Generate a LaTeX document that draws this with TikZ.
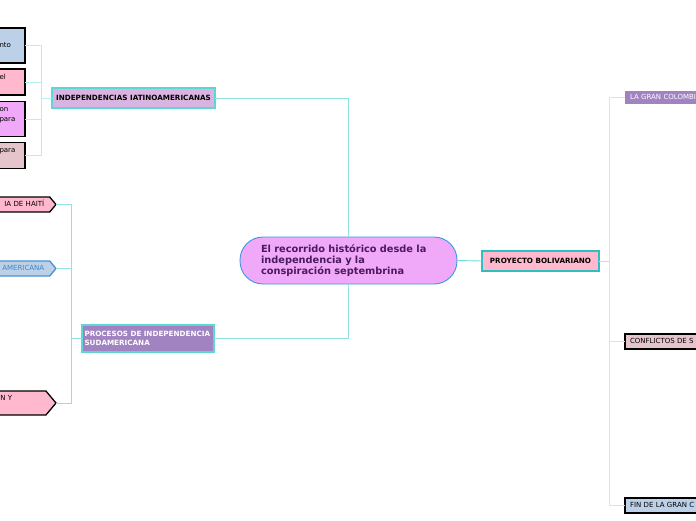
\documentclass[tikz,border=0pt]{standalone}
\usepackage{fontspec}
\setmainfont{DejaVu Sans}
\usetikzlibrary{shapes.symbols}
\definecolor{centerfill}{HTML}{F0A8F8}
\definecolor{centerborder}{HTML}{3C96E6}
\definecolor{centertext}{HTML}{4B1A5E}
\definecolor{orchid}{HTML}{DAB4E0}
\definecolor{violetbox}{HTML}{A283C2}
\definecolor{topicborder}{HTML}{5CD6D6}
\definecolor{tealborder}{HTML}{2EBFBF}
\definecolor{boxpink}{HTML}{FFB8CE}
\definecolor{boxblue}{HTML}{BCD0E8}
\definecolor{boxrose}{HTML}{E6C4CC}
\definecolor{arrowblue}{HTML}{4A92D2}
\definecolor{textblue}{HTML}{3A88C8}
\definecolor{cyanline}{HTML}{8EE2E2}
\definecolor{paleline}{HTML}{B4F0F0}
\definecolor{centerline}{HTML}{70D8D8}
\definecolor{pinkline}{HTML}{F4C8D8}
\definecolor{lilacline}{HTML}{EEDAEA}

\begin{document}
\begin{tikzpicture}[x=1pt,y=-1pt,outer sep=0pt,
  small/.style={font=\fontsize{7}{10}\selectfont},
  smallbold/.style={font=\fontsize{7.2}{9.5}\selectfont\bfseries},
  leafbox/.style={draw=black,line width=1.3pt,small,text width=23.5pt,align=left,inner xsep=2pt,inner ysep=2.5pt,anchor=east},
  pointbox/.style={shape=signal,signal to=east,signal pointer angle=100,draw=black,line width=1.3pt,small,inner xsep=5.5pt,inner ysep=2.5pt,anchor=east},
  sidebox/.style={small,text width=70pt,align=left,inner xsep=5pt,inner ysep=2.5pt,anchor=west},
  topicbox/.style={draw=topicborder,line width=1.2pt,smallbold},
  cyanlink/.style={draw=cyanline,line width=0.9pt},
  palelink/.style={draw=paleline,line width=0.9pt},
  pinklink/.style={draw=pinkline,line width=0.9pt},
  lilaclink/.style={draw=lilacline,line width=0.9pt}]
\useasboundingbox (0,0) rectangle (696,520);

\node[draw=centerborder,line width=0.9pt,fill=centerfill,rounded corners=23pt,minimum width=217pt,minimum height=47pt,text width=175pt,align=left,text=centertext,font=\fontsize{9.8}{11.2}\selectfont\bfseries] (centro) at (348.5,260.5) {El recorrido histórico desde la\\independencia y la\\conspiración septembrina};

\node[topicbox,fill=orchid,minimum width=163pt,minimum height=20pt] (indep) at (133.5,98) {INDEPENDENCIAS IATINOAMERICANAS};
\node[topicbox,fill=violetbox,text=white,text width=127pt,inner xsep=2.5pt,align=left,minimum height=27pt] (proc) at (148,338.5) {PROCESOS DE INDEPENDENCIA\\SUDAMERICANA};
\node[topicbox,draw=tealborder,fill=boxpink,minimum width=117pt,minimum height=20pt] (proy) at (540.5,261) {PROYECTO BOLIVARIANO};

\node[leafbox,fill=boxblue,minimum height=35pt] (l1) at (25,45.5) {\strut\\\strut nto\\\strut};
\node[leafbox,fill=boxpink,minimum height=26pt] (l2) at (25,82) {\strut el\\\strut};
\node[leafbox,fill=centerfill,minimum height=35pt] (l3) at (25,119) {\strut on\\\strut para\\\strut};
\node[leafbox,fill=boxrose,minimum height=26pt] (l4) at (25,155.5) {\strut para\\\strut};

\node[pointbox,fill=boxpink,text width=50pt,align=right] (haiti) at (56,204.5) {\strut IA DE HAITÍ};
\node[pointbox,fill=boxblue,draw=arrowblue,text=textblue,text width=50pt,align=right] (amer) at (56,268.5) {\strut AMERICANA};
\node[pointbox,fill=boxpink,text width=40pt,align=left,inner ysep=2pt] (ny) at (56,403) {\strut N Y\\\strut};

\node[sidebox,fill=violetbox,text=white,inner ysep=1.5pt] (gran) at (625,97.5) {\strut LA GRAN COLOMBI};
\node[sidebox,fill=boxrose,draw=black,line width=1.3pt] (confl) at (625,341.5) {\strut CONFLICTOS DE S};
\node[sidebox,fill=boxblue,draw=black,line width=1.3pt] (fin) at (625,505.5) {\strut FIN DE LA GRAN C};

\draw[cyanlink] (indep.east) -| (centro.north);
\draw[cyanlink] (proc.east) -| (centro.south);
\draw[draw=centerline,line width=0.9pt] (centro.east) -- (proy.west);

\coordinate (jl) at (41,98);
\draw[palelink] (indep.west) -- (jl);
\foreach \b in {l1,l2,l3,l4}
  \draw[palelink] (\b.east) -| (jl);

\coordinate (jp) at (71,338.5);
\draw[cyanlink] (proc.west) -- (jp);
\foreach \b in {haiti,amer,ny}
  \draw[cyanlink] (\b.east) -| (jp);

\coordinate (jr) at (609,261);
\draw[pinklink] (proy.east) -- (jr);
\foreach \b in {gran,confl,fin}
  \draw[lilaclink] (\b.west) -| (jr);
\end{tikzpicture}
\end{document}
